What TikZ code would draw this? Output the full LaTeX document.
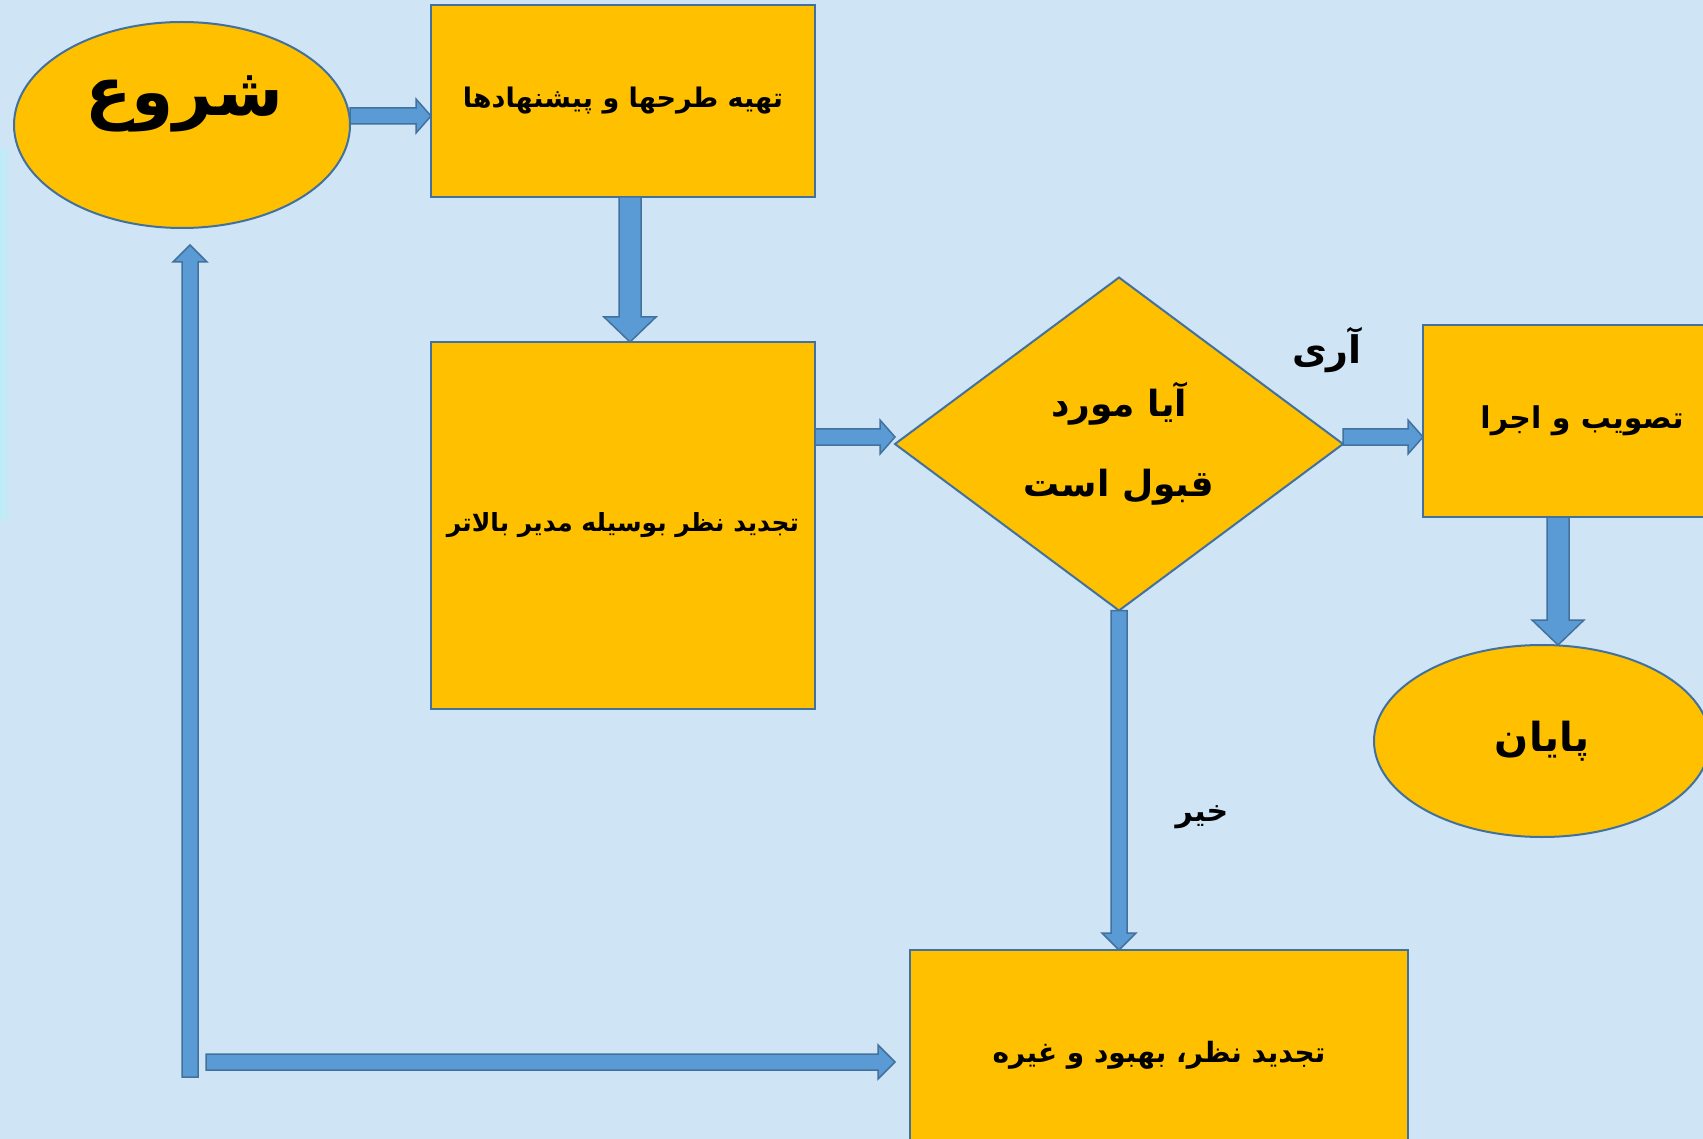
\documentclass[tikz,border=0pt]{standalone}
\usepackage{fontspec}
\usetikzlibrary{shapes.geometric,calc}
\newfontfamily\fa[Script=Arabic]{DejaVu Sans}
\TeXXeTstate=1
\definecolor{bg}{RGB}{207,228,244}
\definecolor{gold}{RGB}{255,192,0}
\definecolor{edgeblue}{RGB}{65,113,156}
\definecolor{arr}{RGB}{91,155,213}
\newcommand\rtl[1]{\beginR #1\endR}
% horizontal block arrow: from, to, y-coordinate, shaft half, head half, head length
\newcommand\harrow[6]{%
  \path[blk] let \p1=(#1),\p2=(#2),\p3=(#3) in
   (\x1,{\y3+#4}) -- ({\x2-#6},{\y3+#4}) -- ({\x2-#6},{\y3+#5}) -- (\x2,\y3)
   -- ({\x2-#6},{\y3-#5}) -- ({\x2-#6},{\y3-#4}) -- (\x1,{\y3-#4}) -- cycle;}
% vertical block arrow: from, to, x-coordinate, shaft half, head half, head length (negative = upward)
\newcommand\varrow[6]{%
  \path[blk] let \p1=(#1),\p2=(#2),\p3=(#3) in
   ({\x3-#4},\y1) -- ({\x3-#4},{\y2+#6}) -- ({\x3-#5},{\y2+#6}) -- (\x3,\y2)
   -- ({\x3+#5},{\y2+#6}) -- ({\x3+#4},{\y2+#6}) -- ({\x3+#4},\y1) -- cycle;}
\begin{document}
\begin{tikzpicture}[x=1pt,y=-1pt,
  shapebox/.style={draw=edgeblue, line width=2pt, fill=gold, inner sep=0pt, outer sep=0pt, text=black},
  rbox/.style={shapebox, rectangle},
  oval/.style={shapebox, ellipse},
  dia/.style={shapebox, diamond, aspect=1.345, align=center},
  blk/.style={fill=arr, draw=edgeblue, line width=1.5pt, line join=miter},
  lbl/.style={text=black, inner sep=0pt}]
\useasboundingbox (0,0) rectangle (1703,1139);
\clip (0,0) rectangle (1703,1139);
\fill[bg] (0,0) rectangle (1703,1139);
\shade[left color={rgb,255:red,190;green,236;blue,248}, right color=bg] (0,150) rectangle (12,520);

% shapes
\node[oval, minimum width=336pt, minimum height=206pt] (start) at (182,125) {};
\node[lbl, font=\fa\bfseries\fontsize{68}{80}\selectfont] (startT) at (184,104) {\rtl{شروع}};
\node[rbox, minimum width=384pt, minimum height=192pt, font=\fa\bfseries\fontsize{27}{32}\selectfont] (box1) at (623,101) {\rtl{تهیه طرحها و پیشنهادها}};
\node[rbox, minimum width=384pt, minimum height=367pt, font=\fa\bfseries\fontsize{25}{30}\selectfont] (box2) at (623,525.5) {\rtl{تجدید نظر بوسیله مدیر بالاتر}};
\node[dia, minimum width=448pt, minimum height=333pt, font=\fa\bfseries\fontsize{36}{80}\selectfont] (dec) at (1119,444) {\rtl{آیا مورد}\\\rtl{قبول است}};
\node[rbox, minimum width=318pt, minimum height=192pt, font=\fa\bfseries\fontsize{30}{36}\selectfont] (box3) at (1582,421) {\rtl{تصویب و اجرا}};
\node[oval, minimum width=336pt, minimum height=192pt, font=\fa\bfseries\fontsize{40}{48}\selectfont] (end) at (1542,741) {\rtl{پایان}};
\node[rbox, minimum width=498pt, minimum height=210pt, font=\fa\bfseries\fontsize{28}{34}\selectfont] (box4) at (1159,1055) {\rtl{تجدید نظر، بهبود و غیره}};

% labels
\node[lbl, font=\fa\bfseries\fontsize{38}{44}\selectfont] (yes) at (1327,350) {\rtl{آری}};
\node[lbl, font=\fa\bfseries\fontsize{30}{36}\selectfont] (no) at (1202,817) {\rtl{خیر}};

% helper coordinates
\coordinate (yA) at (0,116);
\coordinate (xB) at (630,0);
\coordinate (yC) at (0,437);
\coordinate (xD) at (1558,0);
\coordinate (xE) at (1119,0);
\coordinate (yF) at (0,1062);
\coordinate (xG) at (190,0);
\coordinate (loopA) at (206,1062);
\coordinate (loopB) at (190,1077);

% connectors
\harrow{start.east}{box1.west}{yA}{8pt}{17pt}{15pt}
\varrow{box1.south}{box2.north}{xB}{11pt}{26pt}{25pt}
\harrow{box2.east}{dec.west}{yC}{8pt}{17pt}{15pt}
\harrow{dec.east}{box3.west}{yC}{8pt}{17pt}{15pt}
\varrow{box3.south}{end.north}{xD}{11pt}{26pt}{25pt}
\varrow{dec.south}{box4.north}{xE}{8pt}{17pt}{17pt}
\harrow{loopA}{$(box4.west)+(-15,0)$}{yF}{8pt}{17pt}{17pt}
\varrow{loopB}{$(start.south)+(0,17)$}{xG}{8pt}{17pt}{-17pt}
\end{tikzpicture}
\end{document}
